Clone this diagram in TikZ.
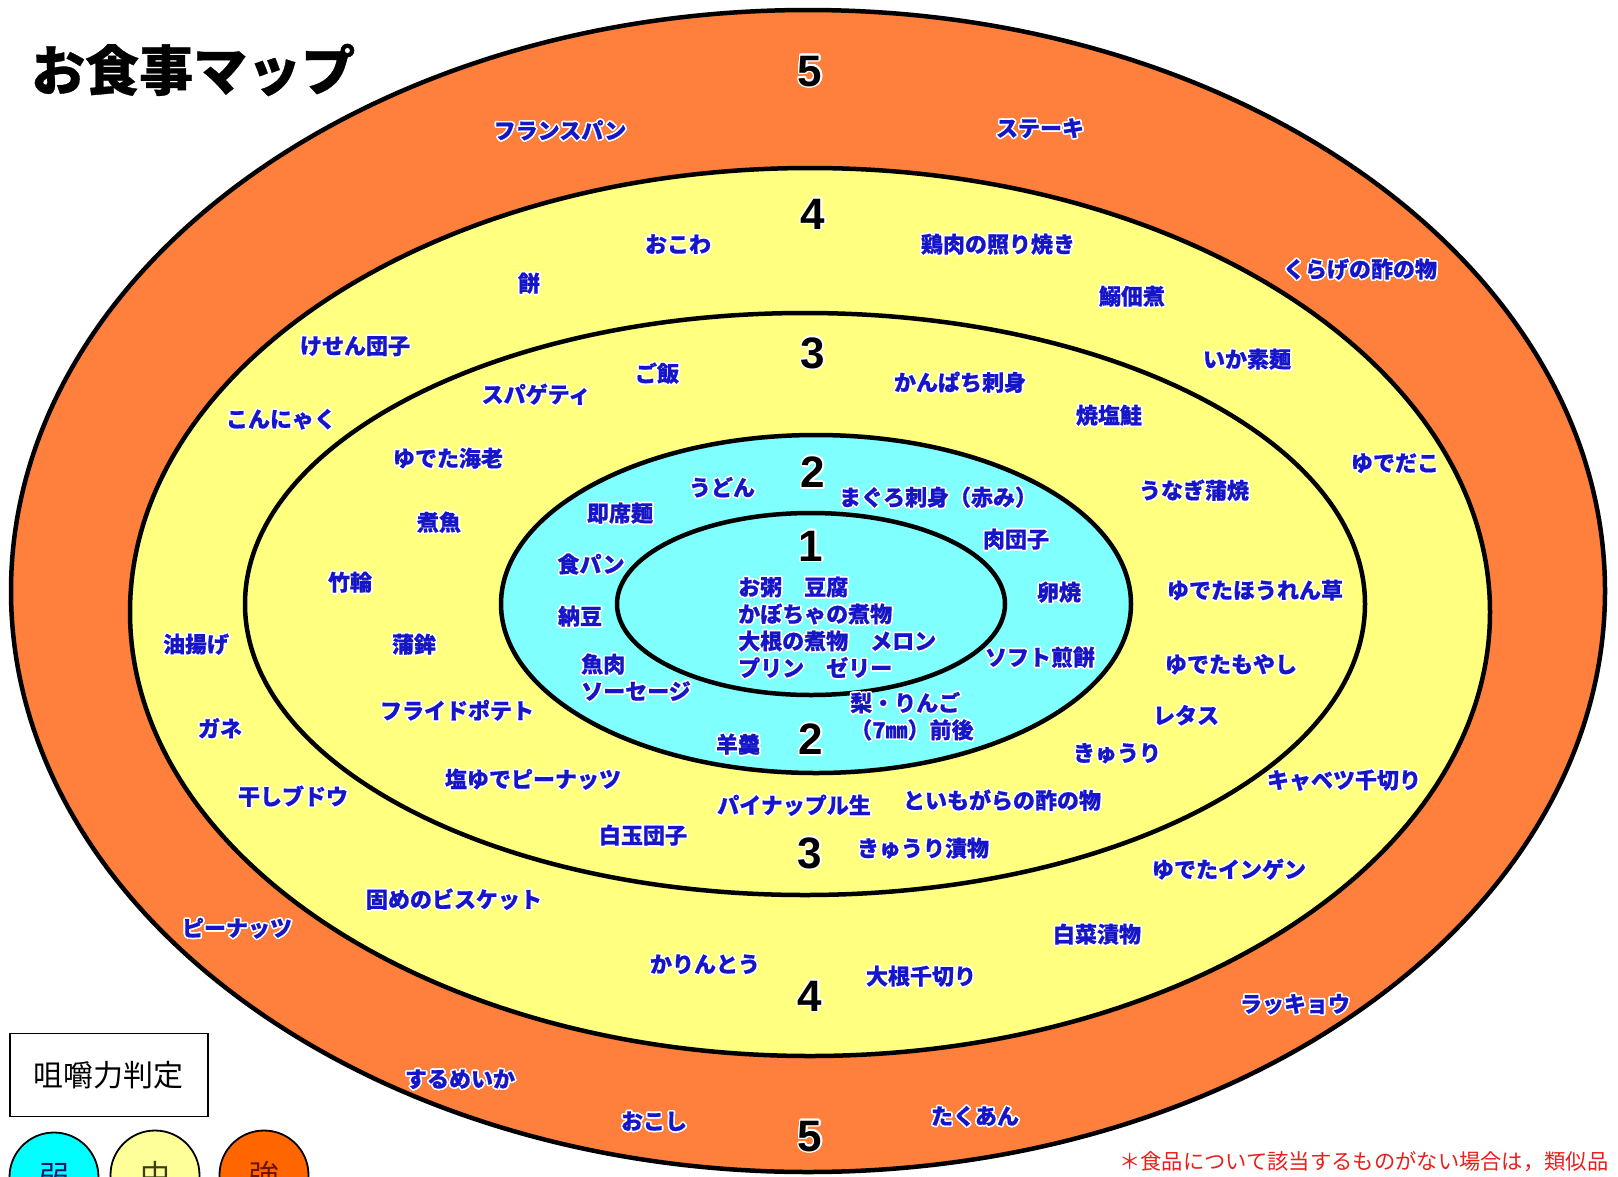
\documentclass[tikz,border=0pt]{standalone}
\usepackage{fontspec}
\usepackage{contour}
\newfontfamily\jp{Noto Sans CJK JP}[BoldFeatures={FakeBold=0.6}]
\newfontfamily\numf{Liberation Sans}
\contourlength{1.6pt}
\definecolor{ringorange}{RGB}{255,128,60}
\definecolor{ringyellow}{RGB}{255,255,128}
\definecolor{ringcyan}{RGB}{128,255,255}
\definecolor{lblue}{RGB}{22,22,200}
\definecolor{notered}{RGB}{235,30,30}
\definecolor{legcyan}{RGB}{0,255,255}
\definecolor{legyellow}{RGB}{255,255,153}
\definecolor{legorange}{RGB}{255,102,0}
\newcommand\lab[1]{\contour{white}{#1}}
\tikzset{
  ring/.style={draw=black, line width=4.5},
  lbl/.style={font=\jp\bfseries\fontsize{22}{27}\selectfont, text=lblue, inner sep=0pt},
  numlbl/.style={font=\numf\bfseries\fontsize{44}{44}\selectfont, text=black, inner sep=0pt},
  legcirc/.style={circle, draw=black, line width=1.8, minimum size=89, inner sep=0pt,
     font=\jp\fontsize{30}{30}\selectfont},
}
\begin{document}
\begin{tikzpicture}[x=1pt,y=-1pt]
\useasboundingbox (0,0) rectangle (1618,1176);
\clip (0,0) rectangle (1618,1176);
\fill[white] (0,0) rectangle (1618,1176);

% rings
\filldraw[ring, fill=ringorange] (808,591) ellipse [x radius=797, y radius=581];
\filldraw[ring, fill=ringyellow] (810,612) ellipse [x radius=680, y radius=444];
\filldraw[ring, fill=ringyellow] (805,604) ellipse [x radius=560, y radius=291];
\filldraw[ring, fill=ringcyan] (816,604) ellipse [x radius=315, y radius=169];
\filldraw[ring, fill=ringcyan] (811,604) ellipse [x radius=194, y radius=91];

% title
\node[font=\jp\bfseries\fontsize{54}{54}\selectfont, anchor=west, inner sep=0pt] (title) at (31,70) {お食事マップ};

% level numbers
\node[numlbl] (n5t) at (810,72) {\contour{white}{5}};
\node[numlbl] (n4t) at (813,215) {\contour{white}{4}};
\node[numlbl] (n3t) at (813,354) {\contour{white}{3}};
\node[numlbl] (n2t) at (813,473) {\contour{white}{2}};
\node[numlbl] (n1) at (811,547) {\contour{white}{1}};
\node[numlbl] (n2b) at (811,740) {\contour{white}{2}};
\node[numlbl] (n3b) at (810,854) {\contour{white}{3}};
\node[numlbl] (n4b) at (810,997) {\contour{white}{4}};
\node[numlbl] (n5b) at (810,1137) {\contour{white}{5}};

% level 5
\node[lbl] (fpan) at (560,131) {\lab{フランスパン}};
\node[lbl] (steak) at (1040,129) {\lab{ステーキ}};
\node[lbl] (kurage) at (1360,270) {\lab{くらげの酢の物}};
\node[lbl] (rakkyo) at (1295,1005) {\lab{ラッキョウ}};
\node[lbl] (takuan) at (975,1117) {\lab{たくあん}};
\node[lbl] (okoshi) at (654,1122) {\lab{おこし}};
\node[lbl] (surume) at (460,1080) {\lab{するめいか}};
\node[lbl] (peanut) at (237,929) {\lab{ピーナッツ}};

% level 4
\node[lbl] (okowa) at (678,245) {\lab{おこわ}};
\node[lbl] (teri) at (998,245) {\lab{鶏肉の照り焼き}};
\node[lbl] (mochi) at (529,284) {\lab{餅}};
\node[lbl] (tsuku) at (1132,297) {\lab{鰯佃煮}};
\node[lbl] (kesen) at (355,347) {\lab{けせん団子}};
\node[lbl] (ikaso) at (1247,360) {\lab{いか素麺}};
\node[lbl] (konnya) at (281,420) {\lab{こんにゃく}};
\node[lbl] (yudako) at (1395,464) {\lab{ゆでだこ}};
\node[lbl] (abura) at (196,645) {\lab{油揚げ}};
\node[lbl] (gane) at (220,729) {\lab{ガネ}};
\node[lbl] (hoshi) at (293,797) {\lab{干しブドウ}};
\node[lbl] (bisc) at (454,900) {\lab{固めのビスケット}};
\node[lbl] (karin) at (705,965) {\lab{かりんとう}};
\node[lbl] (daisen) at (921,977) {\lab{大根千切り}};
\node[lbl] (hakusai) at (1097,935) {\lab{白菜漬物}};
\node[lbl] (ingen) at (1229,870) {\lab{ゆでたインゲン}};
\node[lbl] (cabb) at (1344,781) {\lab{キャベツ千切り}};

% level 3
\node[lbl] (gohan) at (657,374) {\lab{ご飯}};
\node[lbl] (spag) at (536,395) {\lab{スパゲティ}};
\node[lbl] (kanpa) at (960,383) {\lab{かんぱち刺身}};
\node[lbl] (shake) at (1109,416) {\lab{焼塩鮭}};
\node[lbl] (ebi) at (448,459) {\lab{ゆでた海老}};
\node[lbl] (unagi) at (1194,491) {\lab{うなぎ蒲焼}};
\node[lbl] (nizak) at (439,523) {\lab{煮魚}};
\node[lbl] (chiku) at (350,583) {\lab{竹輪}};
\node[lbl] (kama) at (414,645) {\lab{蒲鉾}};
\node[lbl] (horen) at (1255,591) {\lab{ゆでたほうれん草}};
\node[lbl] (moya) at (1231,665) {\lab{ゆでたもやし}};
\node[lbl] (fpot) at (457,711) {\lab{フライドポテト}};
\node[lbl] (lettuce) at (1186,716) {\lab{レタス}};
\node[lbl] (kyuri) at (1117,754) {\lab{きゅうり}};
\node[lbl] (shiope) at (533,780) {\lab{塩ゆでピーナッツ}};
\node[lbl] (pine) at (794,806) {\lab{パイナップル生}};
\node[lbl] (toimo) at (1002,801) {\lab{といもがらの酢の物}};
\node[lbl] (shira) at (643,836) {\lab{白玉団子}};
\node[lbl] (kyuzuke) at (923,849) {\lab{きゅうり漬物}};

% level 2
\node[lbl] (udon) at (722,488) {\lab{うどん}};
\node[lbl] (maguro) at (938,498) {\lab{まぐろ刺身（赤み）}};
\node[lbl] (sokuseki) at (620,514) {\lab{即席麺}};
\node[lbl] (nikudan) at (1016,540) {\lab{肉団子}};
\node[lbl] (shokupan) at (591,565) {\lab{食パン}};
\node[lbl] (tamago) at (1059,593) {\lab{卵焼}};
\node[lbl] (natto) at (580,617) {\lab{納豆}};
\node[lbl] (senbei) at (1040,658) {\lab{ソフト煎餅}};
\node[lbl, align=left, anchor=west] (gyoniku) at (581,678) {\lab{魚肉}\\\lab{ソーセージ}};
\node[lbl, align=left, anchor=west] (nashi) at (850,717) {\lab{梨・りんご}\\\lab{（7㎜）前後}};
\node[lbl] (yokan) at (738,745) {\lab{羊羹}};

% level 1
\node[lbl, align=left, anchor=west] (center) at (738,628)
  {\lab{お粥　豆腐}\\\lab{かぼちゃの煮物}\\\lab{大根の煮物　メロン}\\\lab{プリン　ゼリー}};

% legend
\node[draw=black, line width=1.8, minimum width=198, minimum height=83, inner sep=0pt,
  font=\jp\fontsize{30}{30}\selectfont] (legbox) at (109,1075) {咀嚼力判定};
\node[legcirc, fill=legcyan, text={rgb,255:red,20;green,20;blue,110}] (weak) at (54,1177) {弱};
\node[legcirc, fill=legyellow, text={rgb,255:red,60;green,60;blue,20}] (mid) at (155,1175) {中};
\node[legcirc, fill=legorange, text={rgb,255:red,110;green,20;blue,0}] (strong) at (264,1175) {強};

% footnote
\node[font=\jp\fontsize{21.3}{23}\selectfont, text=notered, anchor=west, inner sep=0pt] (note) at (1119,1162)
  {＊食品について該当するものがない場合は，類似品};
\end{tikzpicture}
\end{document}
